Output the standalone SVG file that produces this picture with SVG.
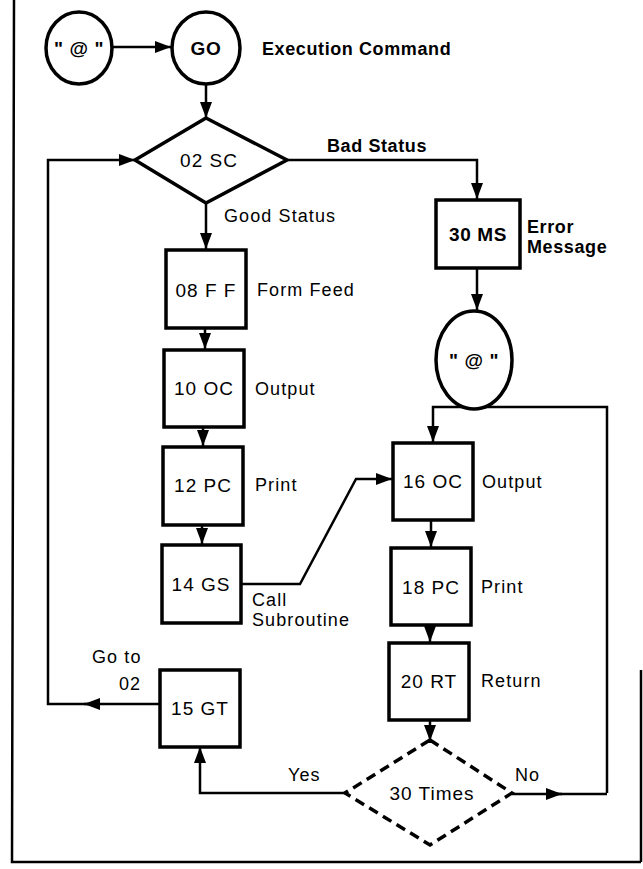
<svg xmlns="http://www.w3.org/2000/svg" width="643" height="869" viewBox="0 0 643 869">
<defs>
<marker id="ah" viewBox="0 0 16 12" refX="16" refY="6" markerWidth="16" markerHeight="12" markerUnits="userSpaceOnUse" orient="auto">
<path d="M0,0 L16,6 L0,12 z" fill="#000"/>
</marker>
<style>
.n{fill:#fff;stroke:#000;stroke-width:3.5}
.d{fill:#fff;stroke:#000;stroke-width:3.5;stroke-dasharray:10,6}
.c{fill:none;stroke:#000;stroke-width:2.5}
.t{font-family:"Liberation Sans",Arial,sans-serif;font-size:19px;letter-spacing:1px;fill:#000;text-anchor:middle}
.l{font-family:"Liberation Sans",Arial,sans-serif;font-size:18px;letter-spacing:1.1px;fill:#000}
.b{font-weight:bold;letter-spacing:0.6px}
</style>
</defs>
<rect x="0" y="0" width="643" height="869" fill="#fff"/>
<g id="frame" fill="none" stroke="#000" stroke-width="2.5">
<path d="M14,0 L12,862 L641,862"/>
<path d="M641,670 L641,862"/>
</g>
<g id="connectors">
<line class="c" x1="113" y1="47" x2="171" y2="47" marker-end="url(#ah)"/>
<line class="c" x1="206" y1="84" x2="206" y2="118" marker-end="url(#ah)"/>
<polyline class="c" points="287,160 477,160 477,199" marker-end="url(#ah)"/>
<line class="c" x1="477" y1="268" x2="477" y2="310" marker-end="url(#ah)"/>
<line class="c" x1="206" y1="203" x2="206" y2="249" marker-end="url(#ah)"/>
<line class="c" x1="205" y1="328" x2="205" y2="349" marker-end="url(#ah)"/>
<line class="c" x1="203" y1="427" x2="203" y2="446" marker-end="url(#ah)"/>
<line class="c" x1="202" y1="525" x2="202" y2="544" marker-end="url(#ah)"/>
<polyline class="c" points="240,584 300,584 356,479 392,479" marker-end="url(#ah)"/>
<polyline class="c" points="607,793 607,407 433,407 433,442" marker-end="url(#ah)"/>
<line class="c" x1="431" y1="520" x2="431" y2="547" marker-end="url(#ah)"/>
<line class="c" x1="430" y1="625" x2="430" y2="642" marker-end="url(#ah)"/>
<line class="c" x1="430" y1="720" x2="430" y2="741" marker-end="url(#ah)"/>
<polyline class="c" points="345,793 200,793 200,747" marker-end="url(#ah)"/>
<line class="c" x1="512" y1="794" x2="562" y2="794" marker-end="url(#ah)"/>
<line class="c" x1="556" y1="794" x2="607" y2="794"/>
<line class="c" x1="160" y1="704" x2="84" y2="704" marker-end="url(#ah)"/>
<polyline class="c" points="100,704 48,704 48,160 135,160" marker-end="url(#ah)"/>
</g>
<g id="start">
<ellipse class="n" cx="79" cy="48" rx="33" ry="36"/>
<text class="t b" x="79" y="55">" @ "</text>
</g>
<g id="go">
<ellipse class="n" cx="206" cy="48" rx="34" ry="36"/>
<text class="t b" x="206" y="55">GO</text>
<text class="l b" x="262" y="55">Execution Command</text>
</g>
<g id="sc02">
<polygon class="n" points="206,118 287,160 206,203 135,160"/>
<text class="t" x="209" y="167">02  SC</text>
<text class="l b" x="327" y="152">Bad Status</text>
<text class="l" x="224" y="222">Good Status</text>
</g>
<g id="ms30">
<rect class="n" x="436" y="200" width="84" height="68"/>
<text class="t b" x="478" y="241">30  MS</text>
<text class="l b" x="527" y="233">Error</text>
<text class="l b" x="527" y="253">Message</text>
</g>
<g id="end">
<ellipse class="n" cx="474" cy="360" rx="38" ry="49"/>
<text class="t b" x="474" y="367">" @ "</text>
</g>
<g id="ff08">
<rect class="n" x="166" y="250" width="80" height="78"/>
<text class="t" x="206" y="297">08  F F</text>
<text class="l" x="257" y="296">Form Feed</text>
</g>
<g id="oc10">
<rect class="n" x="164" y="350" width="80" height="77"/>
<text class="t" x="204" y="395">10  OC</text>
<text class="l" x="255" y="395">Output</text>
</g>
<g id="pc12">
<rect class="n" x="163" y="447" width="80" height="78"/>
<text class="t" x="203" y="492">12  PC</text>
<text class="l" x="255" y="491">Print</text>
</g>
<g id="gs14">
<rect class="n" x="162" y="545" width="79" height="78"/>
<text class="t" x="201" y="591">14  GS</text>
<text class="l" x="252" y="606">Call</text>
<text class="l" x="252" y="626">Subroutine</text>
</g>
<g id="gt15">
<rect class="n" x="160" y="670" width="80" height="77"/>
<text class="t" x="200" y="715">15  GT</text>
<text class="l" x="92" y="663">Go to</text>
<text class="l" x="119" y="690">02</text>
</g>
<g id="oc16">
<rect class="n" x="393" y="443" width="80" height="77"/>
<text class="t" x="433" y="488">16 OC</text>
<text class="l" x="482" y="488">Output</text>
</g>
<g id="pc18">
<rect class="n" x="391" y="548" width="80" height="77"/>
<text class="t" x="431" y="594">18  PC</text>
<text class="l" x="481" y="593">Print</text>
</g>
<g id="rt20">
<rect class="n" x="389" y="643" width="80" height="77"/>
<text class="t" x="429" y="688">20 RT</text>
<text class="l" x="481" y="687">Return</text>
</g>
<g id="times30">
<polygon class="d" points="430,740 512,793 430,845 345,793"/>
<text class="t" x="432" y="800">30 Times</text>
<text class="l" x="288" y="781">Yes</text>
<text class="l" x="515" y="781">No</text>
</g>
</svg>
